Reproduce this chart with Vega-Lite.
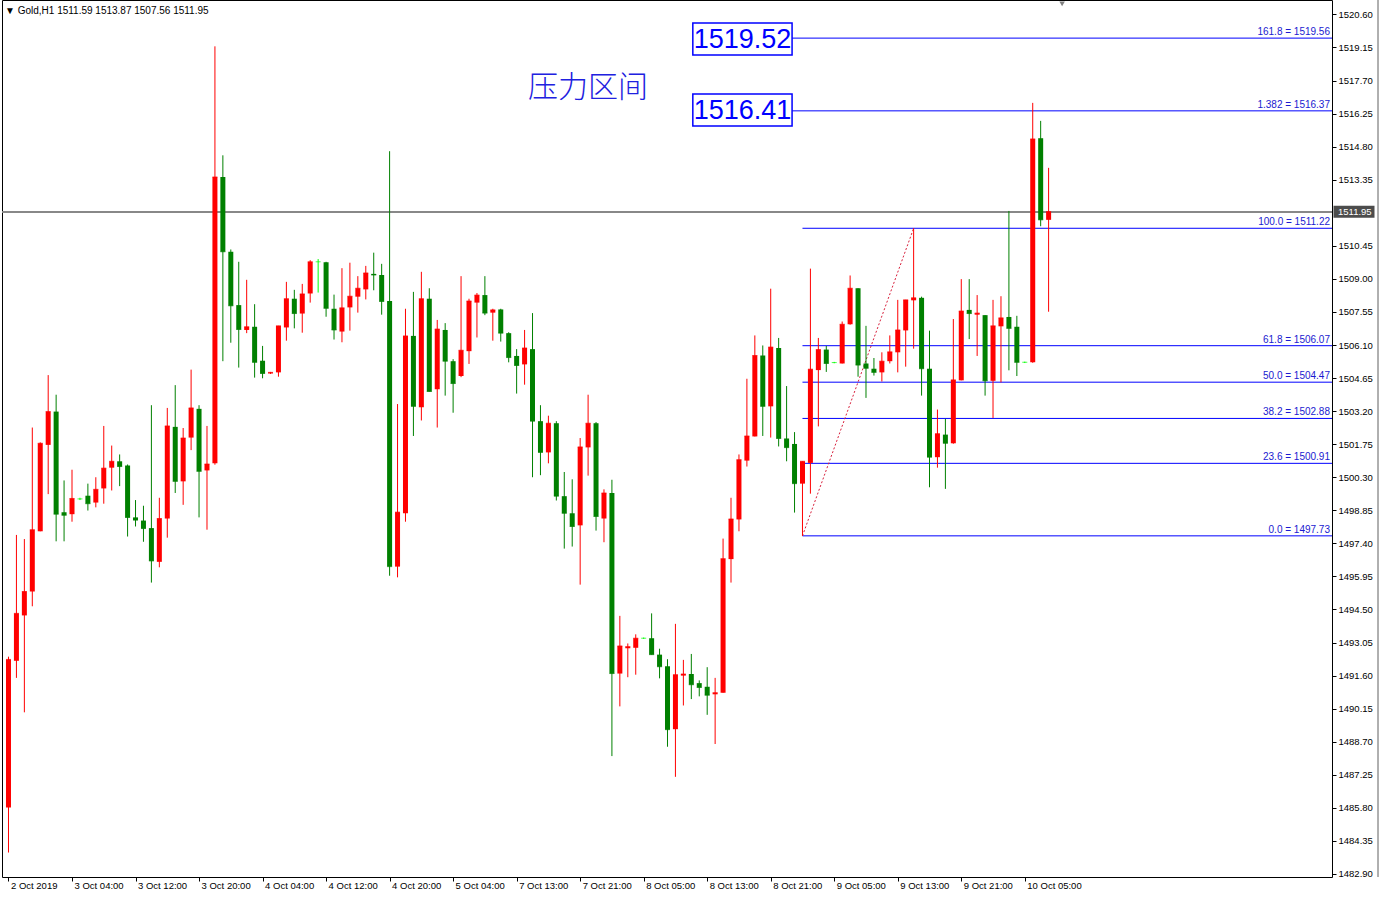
{
  "$schema": "https://vega.github.io/schema/vega-lite/v6.json",
  "width": 1330,
  "height": 877,
  "autosize": {"type": "none"},
  "padding": {"left": 2, "top": 0, "right": 50, "bottom": 24},
  "background": "white",
  "title": {"text": "▼ Gold,H1  1511.59 1513.87 1507.56 1511.95", "anchor": "start", "frame": "group", "orient": "top", "offset": -16, "font": "Liberation Sans", "fontSize": 10, "fontWeight": "normal", "color": "black", "dx": 3},
  "config": {
    "view": {"stroke": "#000000", "strokeWidth": 1},
    "font": "Liberation Sans",
    "axis": {"grid": false, "title": null}
  },
  "datasets": {
    "candles": [
      {"i":0,"o":1485.81,"h":1492.43,"l":1483.84,"c":1492.31},
      {"i":1,"o":1492.25,"h":1497.77,"l":1491.50,"c":1494.33},
      {"i":2,"o":1494.24,"h":1497.59,"l":1489.99,"c":1495.29},
      {"i":3,"o":1495.29,"h":1502.48,"l":1494.64,"c":1498.00},
      {"i":4,"o":1497.93,"h":1501.83,"l":1497.93,"c":1501.79},
      {"i":5,"o":1501.72,"h":1504.78,"l":1499.56,"c":1503.18},
      {"i":6,"o":1503.18,"h":1503.92,"l":1497.49,"c":1498.68},
      {"i":7,"o":1498.77,"h":1500.16,"l":1497.49,"c":1498.63},
      {"i":8,"o":1498.68,"h":1500.63,"l":1498.35,"c":1499.37},
      {"i":9,"o":1499.35,"h":1499.40,"l":1499.30,"c":1499.35},
      {"i":10,"o":1499.49,"h":1500.02,"l":1498.84,"c":1499.14},
      {"i":11,"o":1499.19,"h":1500.30,"l":1498.98,"c":1499.77},
      {"i":12,"o":1499.81,"h":1502.55,"l":1499.14,"c":1500.70},
      {"i":13,"o":1500.72,"h":1501.69,"l":1499.72,"c":1501.00},
      {"i":14,"o":1501.00,"h":1501.30,"l":1499.91,"c":1500.77},
      {"i":15,"o":1500.81,"h":1500.86,"l":1497.70,"c":1498.54},
      {"i":16,"o":1498.54,"h":1499.30,"l":1498.14,"c":1498.42},
      {"i":17,"o":1498.40,"h":1499.05,"l":1497.47,"c":1498.05},
      {"i":18,"o":1498.07,"h":1503.46,"l":1495.68,"c":1496.63},
      {"i":19,"o":1496.59,"h":1499.40,"l":1496.35,"c":1498.49},
      {"i":20,"o":1498.49,"h":1503.34,"l":1497.65,"c":1502.55},
      {"i":21,"o":1502.51,"h":1504.34,"l":1499.61,"c":1500.12},
      {"i":22,"o":1500.12,"h":1502.46,"l":1499.09,"c":1502.02},
      {"i":23,"o":1502.04,"h":1505.02,"l":1501.49,"c":1503.34},
      {"i":24,"o":1503.30,"h":1503.46,"l":1498.54,"c":1500.56},
      {"i":25,"o":1500.60,"h":1502.55,"l":1498.00,"c":1500.88},
      {"i":26,"o":1500.91,"h":1519.20,"l":1500.85,"c":1513.47},
      {"i":27,"o":1513.47,"h":1514.42,"l":1505.39,"c":1510.19},
      {"i":28,"o":1510.19,"h":1510.29,"l":1506.20,"c":1507.82},
      {"i":29,"o":1507.85,"h":1509.75,"l":1505.11,"c":1506.78},
      {"i":30,"o":1506.76,"h":1508.96,"l":1506.62,"c":1506.90},
      {"i":31,"o":1506.90,"h":1507.89,"l":1504.67,"c":1505.34},
      {"i":32,"o":1505.41,"h":1506.06,"l":1504.64,"c":1504.85},
      {"i":33,"o":1504.85,"h":1504.92,"l":1504.83,"c":1504.90},
      {"i":34,"o":1504.90,"h":1506.94,"l":1504.71,"c":1506.94},
      {"i":35,"o":1506.87,"h":1508.87,"l":1506.29,"c":1508.13},
      {"i":36,"o":1508.13,"h":1508.52,"l":1506.83,"c":1507.48},
      {"i":37,"o":1507.48,"h":1508.78,"l":1506.64,"c":1508.34},
      {"i":38,"o":1508.36,"h":1509.82,"l":1507.96,"c":1509.75},
      {"i":39,"o":1509.75,"h":1509.87,"l":1508.40,"c":1509.75},
      {"i":40,"o":1509.73,"h":1509.75,"l":1507.34,"c":1507.71},
      {"i":41,"o":1507.69,"h":1508.31,"l":1506.34,"c":1506.76},
      {"i":42,"o":1506.69,"h":1509.47,"l":1506.22,"c":1507.73},
      {"i":43,"o":1507.75,"h":1509.71,"l":1506.73,"c":1508.24},
      {"i":44,"o":1508.22,"h":1509.12,"l":1507.52,"c":1508.59},
      {"i":45,"o":1508.54,"h":1509.57,"l":1508.10,"c":1509.26},
      {"i":46,"o":1509.22,"h":1510.15,"l":1508.50,"c":1509.17},
      {"i":47,"o":1509.17,"h":1509.66,"l":1507.43,"c":1508.01},
      {"i":48,"o":1508.03,"h":1514.60,"l":1495.98,"c":1496.38},
      {"i":49,"o":1496.38,"h":1503.51,"l":1495.91,"c":1498.77},
      {"i":50,"o":1498.72,"h":1507.69,"l":1498.35,"c":1506.50},
      {"i":51,"o":1506.50,"h":1508.43,"l":1502.11,"c":1503.41},
      {"i":52,"o":1503.37,"h":1509.31,"l":1502.79,"c":1508.13},
      {"i":53,"o":1508.13,"h":1508.59,"l":1504.06,"c":1504.06},
      {"i":54,"o":1504.16,"h":1507.20,"l":1502.48,"c":1506.80},
      {"i":55,"o":1506.76,"h":1507.06,"l":1503.88,"c":1505.39},
      {"i":56,"o":1505.39,"h":1505.48,"l":1503.13,"c":1504.41},
      {"i":57,"o":1504.74,"h":1509.12,"l":1504.69,"c":1505.87},
      {"i":58,"o":1505.83,"h":1508.13,"l":1505.27,"c":1508.03},
      {"i":59,"o":1507.96,"h":1508.38,"l":1506.43,"c":1508.29},
      {"i":60,"o":1508.29,"h":1509.12,"l":1507.41,"c":1507.50},
      {"i":61,"o":1507.52,"h":1507.69,"l":1506.29,"c":1507.64},
      {"i":62,"o":1507.66,"h":1507.69,"l":1506.25,"c":1506.62},
      {"i":63,"o":1506.62,"h":1506.66,"l":1505.34,"c":1505.55},
      {"i":64,"o":1505.62,"h":1505.92,"l":1503.97,"c":1505.20},
      {"i":65,"o":1505.25,"h":1506.76,"l":1504.36,"c":1505.97},
      {"i":66,"o":1505.92,"h":1507.50,"l":1500.30,"c":1502.76},
      {"i":67,"o":1502.76,"h":1503.46,"l":1500.39,"c":1501.39},
      {"i":68,"o":1501.39,"h":1503.00,"l":1500.91,"c":1502.67},
      {"i":69,"o":1502.67,"h":1502.76,"l":1499.28,"c":1499.47},
      {"i":70,"o":1499.47,"h":1500.53,"l":1497.17,"c":1498.72},
      {"i":71,"o":1498.72,"h":1500.21,"l":1497.26,"c":1498.14},
      {"i":72,"o":1498.19,"h":1502.02,"l":1495.59,"c":1501.63},
      {"i":73,"o":1501.61,"h":1503.92,"l":1500.37,"c":1502.67},
      {"i":74,"o":1502.67,"h":1502.72,"l":1497.96,"c":1498.58},
      {"i":75,"o":1498.49,"h":1499.77,"l":1497.45,"c":1499.61},
      {"i":76,"o":1499.61,"h":1500.19,"l":1488.07,"c":1491.69},
      {"i":77,"o":1491.69,"h":1494.22,"l":1490.25,"c":1492.90},
      {"i":78,"o":1492.80,"h":1493.01,"l":1491.53,"c":1492.87},
      {"i":79,"o":1492.82,"h":1493.41,"l":1491.64,"c":1493.24},
      {"i":80,"o":1493.24,"h":1493.27,"l":1493.21,"c":1493.24},
      {"i":81,"o":1493.24,"h":1494.33,"l":1492.52,"c":1492.52},
      {"i":82,"o":1492.52,"h":1492.78,"l":1491.48,"c":1491.99},
      {"i":83,"o":1492.01,"h":1492.32,"l":1488.48,"c":1489.23},
      {"i":84,"o":1489.25,"h":1493.87,"l":1487.16,"c":1491.64},
      {"i":85,"o":1491.60,"h":1492.29,"l":1490.29,"c":1491.67},
      {"i":86,"o":1491.67,"h":1492.55,"l":1490.57,"c":1491.20},
      {"i":87,"o":1491.27,"h":1491.39,"l":1490.69,"c":1491.08},
      {"i":88,"o":1491.11,"h":1491.97,"l":1489.88,"c":1490.74},
      {"i":89,"o":1490.78,"h":1491.50,"l":1488.60,"c":1490.85},
      {"i":90,"o":1490.85,"h":1497.61,"l":1490.85,"c":1496.73},
      {"i":91,"o":1496.71,"h":1499.40,"l":1495.68,"c":1498.47},
      {"i":92,"o":1498.45,"h":1501.30,"l":1497.93,"c":1501.07},
      {"i":93,"o":1501.03,"h":1504.62,"l":1500.77,"c":1502.11},
      {"i":94,"o":1502.09,"h":1506.52,"l":1502.09,"c":1505.64},
      {"i":95,"o":1505.64,"h":1506.08,"l":1502.11,"c":1503.41},
      {"i":96,"o":1503.41,"h":1508.57,"l":1502.04,"c":1506.01},
      {"i":97,"o":1505.97,"h":1506.41,"l":1501.65,"c":1502.00},
      {"i":98,"o":1502.00,"h":1504.30,"l":1501.00,"c":1501.60},
      {"i":99,"o":1501.76,"h":1502.28,"l":1498.75,"c":1500.02},
      {"i":100,"o":1500.02,"h":1501.00,"l":1497.73,"c":1501.00},
      {"i":101,"o":1500.93,"h":1509.45,"l":1499.58,"c":1505.04},
      {"i":102,"o":1505.00,"h":1506.41,"l":1502.53,"c":1505.90},
      {"i":103,"o":1505.90,"h":1506.06,"l":1504.92,"c":1505.29},
      {"i":104,"o":1505.33,"h":1505.36,"l":1505.30,"c":1505.33},
      {"i":105,"o":1505.29,"h":1507.13,"l":1505.29,"c":1507.01},
      {"i":106,"o":1507.01,"h":1509.15,"l":1506.99,"c":1508.59},
      {"i":107,"o":1508.59,"h":1508.59,"l":1504.71,"c":1505.22},
      {"i":108,"o":1505.29,"h":1506.94,"l":1503.78,"c":1505.08},
      {"i":109,"o":1505.06,"h":1505.53,"l":1504.76,"c":1504.90},
      {"i":110,"o":1504.90,"h":1505.78,"l":1504.50,"c":1505.39},
      {"i":111,"o":1505.39,"h":1506.52,"l":1505.29,"c":1505.80},
      {"i":112,"o":1505.78,"h":1508.08,"l":1504.90,"c":1506.76},
      {"i":113,"o":1506.74,"h":1508.08,"l":1505.15,"c":1508.08},
      {"i":114,"o":1508.06,"h":1511.22,"l":1505.94,"c":1508.17},
      {"i":115,"o":1508.17,"h":1508.22,"l":1503.88,"c":1505.06},
      {"i":116,"o":1505.06,"h":1506.73,"l":1499.86,"c":1501.18},
      {"i":117,"o":1501.18,"h":1503.27,"l":1500.72,"c":1502.21},
      {"i":118,"o":1502.17,"h":1502.86,"l":1499.79,"c":1501.79},
      {"i":119,"o":1501.79,"h":1507.24,"l":1501.77,"c":1504.57},
      {"i":120,"o":1504.55,"h":1508.99,"l":1504.55,"c":1507.59},
      {"i":121,"o":1507.64,"h":1508.99,"l":1506.36,"c":1507.48},
      {"i":122,"o":1507.43,"h":1508.29,"l":1505.62,"c":1507.50},
      {"i":123,"o":1507.41,"h":1507.41,"l":1503.88,"c":1504.53},
      {"i":124,"o":1504.53,"h":1508.08,"l":1502.90,"c":1506.94},
      {"i":125,"o":1506.92,"h":1508.24,"l":1504.46,"c":1507.29},
      {"i":126,"o":1507.33,"h":1511.98,"l":1504.99,"c":1506.83},
      {"i":127,"o":1506.90,"h":1507.38,"l":1504.74,"c":1505.34},
      {"i":128,"o":1505.34,"h":1505.37,"l":1505.31,"c":1505.34},
      {"i":129,"o":1505.34,"h":1516.72,"l":1505.32,"c":1515.14},
      {"i":130,"o":1515.17,"h":1515.93,"l":1511.31,"c":1511.59},
      {"i":131,"o":1511.59,"h":1513.87,"l":1507.56,"c":1511.95}
    ],
    "fib": [
      {"lbl":"0.0 = 1497.73","p":1497.73,"x0":100},
      {"lbl":"23.6 = 1500.91","p":1500.91,"x0":100},
      {"lbl":"38.2 = 1502.88","p":1502.88,"x0":100},
      {"lbl":"50.0 = 1504.47","p":1504.47,"x0":100},
      {"lbl":"61.8 = 1506.07","p":1506.07,"x0":100},
      {"lbl":"100.0 = 1511.22","p":1511.22,"x0":100},
      {"lbl":"1.382 = 1516.37","p":1516.37,"x0":98.69},
      {"lbl":"161.8 = 1519.56","p":1519.56,"x0":98.69}
    ],
    "diag": [
      {"i":100,"p":1497.73},
      {"i":114,"p":1511.22}
    ],
    "boxes": [
      {"lbl":"1519.52","p":1519.52,"i1":86.19,"i2":98.69,"p1":1518.82,"p2":1520.22,"ic":92.44},
      {"lbl":"1516.41","p":1516.41,"i1":86.19,"i2":98.69,"p1":1515.71,"p2":1517.11,"ic":92.44}
    ],
    "notes": [
      {"txt":"压力区间","i":73.0,"p":1517.37}
    ],
    "marker": [
      {"i":132.7,"p":1521.06}
    ]
  },
  "layer": [
    {
      "data": {"name": "candles"},
      "mark": {"type": "rule", "color": "#888888", "strokeWidth": 1},
      "encoding": {
        "y": {"datum": 1511.95, "type": "quantitative", "scale": {"domain": [1482.767, 1521.232], "nice": false, "zero": false},
          "axis": {"orient": "right", "values": [1482.90,1484.35,1485.80,1487.25,1488.70,1490.15,1491.60,1493.05,1494.50,1495.95,1497.40,1498.85,1500.30,1501.75,1503.20,1504.65,1506.10,1507.55,1509.00,1510.45,1513.35,1514.80,1516.25,1517.70,1519.15,1520.60],
            "tickCount": 40, "format": ".2f", "domain": false, "tickSize": 4, "tickColor": "#000000", "labelPadding": 2, "labelOverlap": false, "labelBound": false, "labelFlush": false, "labelFont": "Liberation Sans", "labelFontSize": 9.5, "labelColor": "#000000", "title": null}}
      }
    },
    {
      "data": {"name": "marker"},
      "mark": {"type": "rule", "color": "#606060", "strokeWidth": 1, "xOffset": 46, "clip": false},
      "encoding": {
        "x": {"value": "width"}
      }
    },
    {
      "data": {"name": "fib"},
      "mark": {"type": "rule", "color": "#0000ff", "strokeWidth": 1},
      "encoding": {
        "x": {"field": "x0", "type": "quantitative", "scale": {"domain": [-0.1875, 166.0625], "nice": false, "zero": false},
          "axis": {"orient": "bottom", "values": [0,8,16,24,32,40,48,56,64,72,80,88,96,104,112,120,128],
            "tickCount": 40,
            "labelExpr": "['2 Oct 2019','3 Oct 04:00','3 Oct 12:00','3 Oct 20:00','4 Oct 04:00','4 Oct 12:00','4 Oct 20:00','5 Oct 04:00','7 Oct 13:00','7 Oct 21:00','8 Oct 05:00','8 Oct 13:00','8 Oct 21:00','9 Oct 05:00','9 Oct 13:00','9 Oct 21:00','10 Oct 05:00'][round(datum.value/8)]",
            "domain": false, "tickSize": 4, "tickColor": "#000000", "labelAlign": "left", "labelBaseline": "top", "labelPadding": -1, "labelOffset": 2, "labelFlush": false, "labelOverlap": false, "labelBound": false, "labelFont": "Liberation Sans", "labelFontSize": 9.5, "labelColor": "#000000", "title": null}},
        "x2": {"value": "width"},
        "y": {"field": "p", "type": "quantitative", "scale": {"domain": [1482.767, 1521.232], "nice": false, "zero": false}}
      }
    },
    {
      "data": {"name": "fib"},
      "mark": {"type": "text", "color": "#1a1ad0", "align": "right", "baseline": "bottom", "dx": -2, "dy": -1, "font": "Liberation Sans", "fontSize": 10},
      "encoding": {
        "x": {"value": "width"},
        "y": {"field": "p", "type": "quantitative", "scale": {"domain": [1482.767, 1521.232], "nice": false, "zero": false}},
        "text": {"field": "lbl"}
      }
    },
    {
      "data": {"name": "diag"},
      "mark": {"type": "line", "color": "#d8203c", "strokeWidth": 1, "strokeDash": [2, 2]},
      "encoding": {
        "x": {"field": "i", "type": "quantitative", "scale": {"domain": [-0.1875, 166.0625], "nice": false, "zero": false}},
        "y": {"field": "p", "type": "quantitative", "scale": {"domain": [1482.767, 1521.232], "nice": false, "zero": false}}
      }
    },
    {
      "data": {"name": "candles"},
      "mark": {"type": "rule", "strokeWidth": 1},
      "encoding": {
        "x": {"field": "i", "type": "quantitative", "scale": {"domain": [-0.1875, 166.0625], "nice": false, "zero": false}},
        "y": {"field": "l", "type": "quantitative", "scale": {"domain": [1482.767, 1521.232], "nice": false, "zero": false}},
        "y2": {"field": "h"},
        "color": {"condition": [{"test": "datum.c > datum.o", "value": "#ff0000"}, {"test": "datum.c < datum.o", "value": "#008000"}], "value": "#00ff00"}
      }
    },
    {
      "data": {"name": "candles"},
      "mark": {"type": "bar", "width": 5},
      "encoding": {
        "x": {"field": "i", "type": "quantitative", "scale": {"domain": [-0.1875, 166.0625], "nice": false, "zero": false}},
        "y": {"field": "o", "type": "quantitative", "scale": {"domain": [1482.767, 1521.232], "nice": false, "zero": false}},
        "y2": {"field": "c"},
        "color": {"condition": [{"test": "datum.c > datum.o", "value": "#ff0000"}, {"test": "datum.c < datum.o", "value": "#008000"}], "value": "#00ff00"}
      }
    },
    {
      "data": {"name": "candles"},
      "mark": {"type": "tick", "orient": "horizontal", "size": 5, "thickness": 1},
      "encoding": {
        "x": {"field": "i", "type": "quantitative", "scale": {"domain": [-0.1875, 166.0625], "nice": false, "zero": false}},
        "y": {"field": "c", "type": "quantitative", "scale": {"domain": [1482.767, 1521.232], "nice": false, "zero": false}},
        "color": {"condition": [{"test": "datum.c > datum.o", "value": "#ff0000"}, {"test": "datum.c < datum.o", "value": "#008000"}], "value": "#00ff00"}
      }
    },
    {
      "data": {"name": "boxes"},
      "mark": {"type": "rect", "fill": "#ffffff", "stroke": "#0000ff", "strokeWidth": 1.5},
      "encoding": {
        "x": {"field": "i1", "type": "quantitative", "scale": {"domain": [-0.1875, 166.0625], "nice": false, "zero": false}},
        "x2": {"field": "i2"},
        "y": {"field": "p1", "type": "quantitative", "scale": {"domain": [1482.767, 1521.232], "nice": false, "zero": false}},
        "y2": {"field": "p2"}
      }
    },
    {
      "data": {"name": "boxes"},
      "mark": {"type": "text", "color": "#0000ff", "align": "center", "baseline": "middle", "font": "Liberation Sans", "fontSize": 27, "dy": 1},
      "encoding": {
        "x": {"field": "ic", "type": "quantitative", "scale": {"domain": [-0.1875, 166.0625], "nice": false, "zero": false}},
        "y": {"field": "p", "type": "quantitative", "scale": {"domain": [1482.767, 1521.232], "nice": false, "zero": false}},
        "text": {"field": "lbl"}
      }
    },
    {
      "data": {"name": "notes"},
      "mark": {"type": "text", "color": "#2020e0", "align": "center", "baseline": "middle", "font": "Noto Sans CJK SC", "fontWeight": 300, "fontSize": 30},
      "encoding": {
        "x": {"field": "i", "type": "quantitative", "scale": {"domain": [-0.1875, 166.0625], "nice": false, "zero": false}},
        "y": {"field": "p", "type": "quantitative", "scale": {"domain": [1482.767, 1521.232], "nice": false, "zero": false}},
        "text": {"field": "txt"}
      }
    },
    {
      "data": {"name": "marker"},
      "mark": {"type": "point", "shape": "triangle-down", "filled": true, "color": "#808080", "size": 30, "opacity": 1},
      "encoding": {
        "x": {"field": "i", "type": "quantitative", "scale": {"domain": [-0.1875, 166.0625], "nice": false, "zero": false}},
        "y": {"field": "p", "type": "quantitative", "scale": {"domain": [1482.767, 1521.232], "nice": false, "zero": false}}
      }
    },
    {
      "data": {"name": "marker"},
      "mark": {"type": "tick", "orient": "horizontal", "size": 41, "thickness": 12, "color": "#000000", "xOffset": 22, "clip": false},
      "encoding": {
        "x": {"value": "width"},
        "y": {"datum": 1511.95, "type": "quantitative", "scale": {"domain": [1482.767, 1521.232], "nice": false, "zero": false}}
      }
    },
    {
      "data": {"name": "marker"},
      "mark": {"type": "text", "color": "#ffffff", "align": "left", "baseline": "middle", "dx": 6, "font": "Liberation Sans", "fontSize": 9.5},
      "encoding": {
        "x": {"value": "width"},
        "y": {"datum": 1511.95, "type": "quantitative", "scale": {"domain": [1482.767, 1521.232], "nice": false, "zero": false}},
        "text": {"value": "1511.95"}
      }
    }
  ]
}
